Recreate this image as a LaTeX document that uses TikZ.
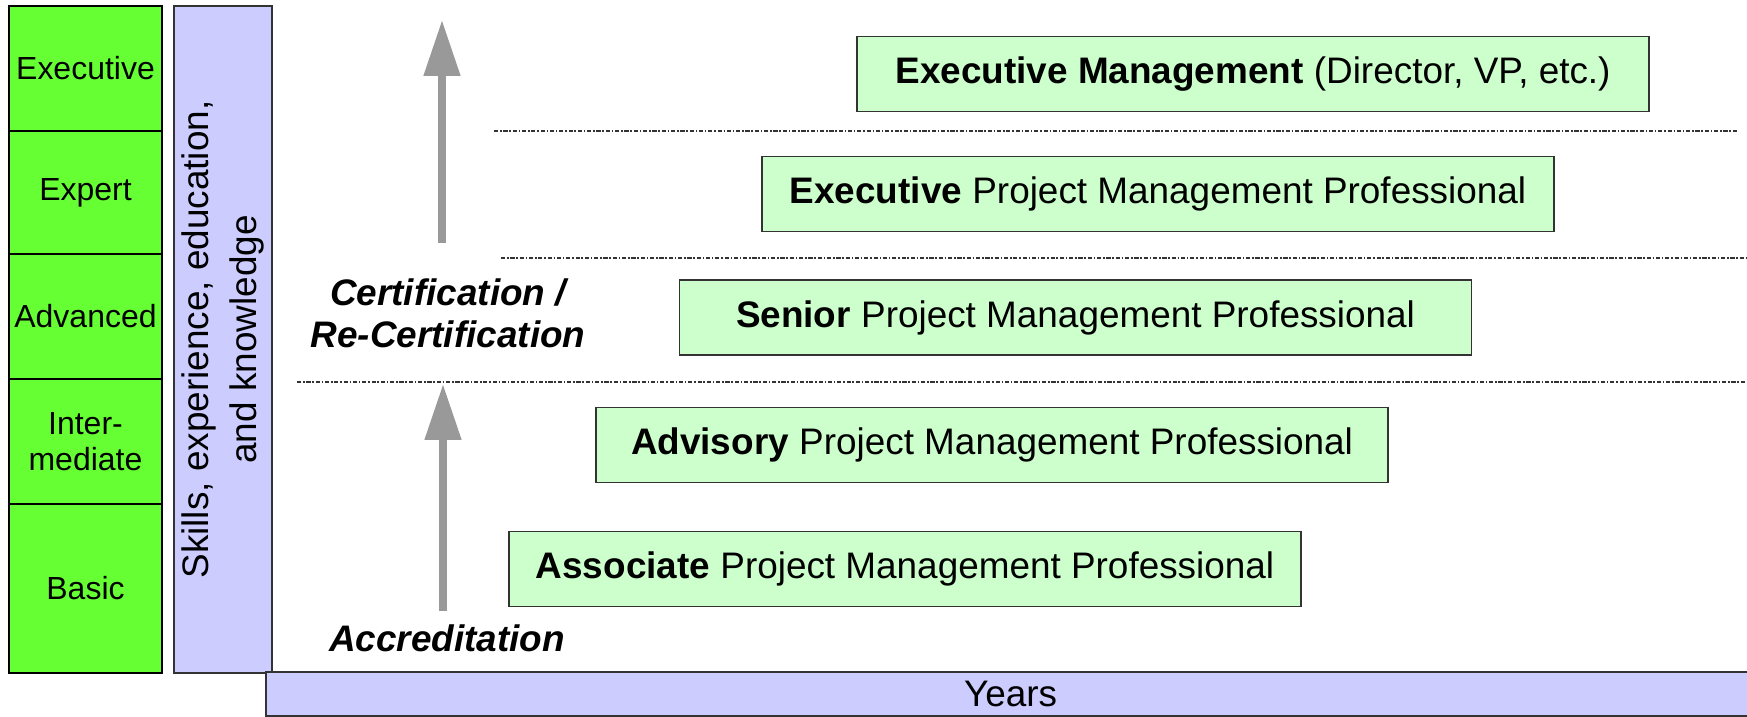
\documentclass[tikz,border=0pt]{standalone}
\usepackage{tikz}
\usepackage{xcolor}
\usepackage{fontspec}
\setmainfont{Liberation Sans}
\usetikzlibrary{arrows.meta}

\definecolor{levelgreen}{HTML}{66FF33}
\definecolor{skillblue}{HTML}{CCCCFF}
\definecolor{boxgreen}{HTML}{CCFFCC}
\definecolor{arrowgray}{HTML}{999999}

\begin{document}
\begin{tikzpicture}[
    level/.style={draw=black,fill=levelgreen,line width=0.4pt},
    pmbox/.style={draw=black!80,fill=boxgreen,line width=0.4pt,
      minimum width=7.92cm,minimum height=0.75cm,inner sep=0pt,
      font=\fontsize{10.5}{12.6}\selectfont},
    sep/.style={black!80,line width=0.4pt,
      dash pattern=on 1.2pt off 0.5pt on 0.45pt off 0.5pt},
    climb/.style={arrowgray,line width=0.08cm,
      -{Triangle[width=0.35cm,length=0.56cm]}},
    route/.style={font=\bfseries\itshape\fontsize{10.5}{12}\selectfont,
      align=center,inner sep=0pt}
  ]
    \useasboundingbox (0,0) rectangle (17.47,7.17);
    % levels on the left
    \foreach \t/\b/\lab [count=\i] in {7.11/5.86/Executive,5.86/4.63/Expert,
      4.63/3.38/Advanced,3.38/2.13/{Inter-\\mediate},2.13/0.44/Basic}{
      \draw[level] (0.09,\b) rectangle (1.62,\t)
      node[midway,align=center,name=lvl-\i,
        font=\fontsize{9.1}{10.2}\selectfont] {\lab};
      }
    \draw[draw=black!80,fill=skillblue,line width=0.4pt] (1.74,0.44) rectangle (2.72,7.11)
    node[midway,rotate=90,align=center,name=skills,
      font=\fontsize{10.5}{13.6}\selectfont]
    {Skills, experience, education,\\and knowledge};
    \draw[draw=black!80,fill=skillblue,line width=0.4pt] (2.66,0.01) rectangle (17.55,0.45)
    node[midway,name=years,font=\fontsize{10.5}{12.6}\selectfont] {Years};
    % separators
    \foreach \x/\y/\e in {4.94/5.86/17.37,5.01/4.59/17.47,2.97/3.35/17.47}{
      \draw[sep] (\x,\y) -- (\e,\y);
      }
    % the five professional grades
    \node[pmbox] (exm) at (12.53,6.43)
    {\textbf{Executive Management} (Director, VP, etc.)};
    \node[pmbox] (epm) at (11.58,5.23)
    {\textbf{Executive} Project Management Professional};
    \node[pmbox] (spm) at (10.755,3.995)
    {\textbf{Senior} Project Management Professional};
    \node[pmbox] (advpm) at (9.92,2.72)
    {\textbf{Advisory} Project Management Professional};
    \node[pmbox] (asspm) at (9.05,1.48)
    {\textbf{Associate} Project Management Professional};
    % routes up
    \node[route,anchor=base] (accr) at (4.47,0.65) {Accreditation};
    \node[route] (cert) at (4.48,4.04) {Certification /\\Re-Certification};
    \coordinate (accr-tail) at (4.43,1.06);
    \coordinate (accr-tip) at (4.43,3.33);
    \coordinate (cert-tail) at (4.42,4.74);
    \coordinate (cert-tip) at (4.42,6.97);
    \draw[climb] (accr-tail) -- (accr-tip);
    \draw[climb] (cert-tail) -- (cert-tip);
  \end{tikzpicture}
\end{document}
